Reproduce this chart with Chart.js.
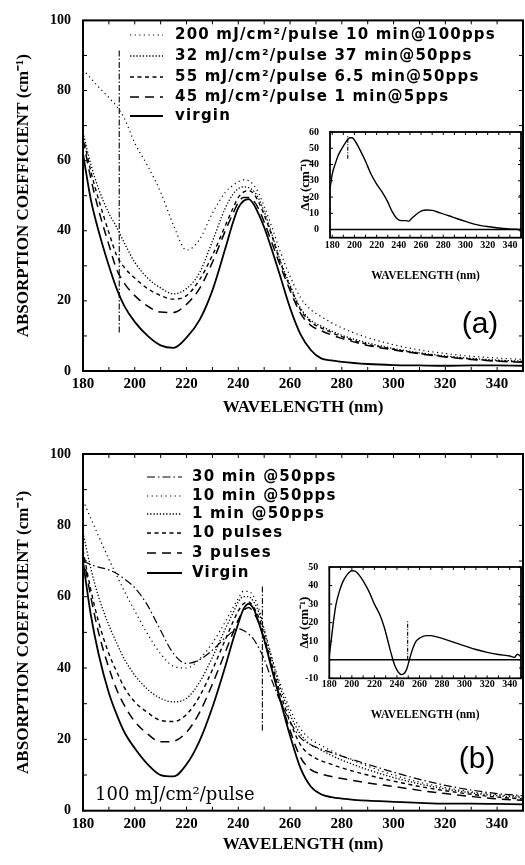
<!DOCTYPE html>
<html>
<head>
<meta charset="utf-8">
<script src="https://cdn.jsdelivr.net/npm/chart.js@4.4.0/dist/chart.umd.min.js"></script>
<style>
  html, body { margin: 0; padding: 0; background: #fff; }
  #page { position: relative; width: 525px; height: 865px; overflow: hidden; background: #fff; }
  .box { position: absolute; }
</style>
</head>
<body>
<div id="page">
  <div class="box" style="left:0;top:0;width:525px;height:430px"><canvas id="mainA"></canvas></div>
  <div class="box" style="left:0;top:430px;width:525px;height:435px"><canvas id="mainB"></canvas></div>
  <div class="box" style="left:280px;top:115px;width:245px;height:175px"><canvas id="insetA"></canvas></div>
  <div class="box" style="left:280px;top:550px;width:245px;height:175px"><canvas id="insetB"></canvas></div>
</div>
<script>
// --- DATA ---
const wavelengths = [180,183,186,190,193,196,200,205,210,215,220,225,230,235,238,240,242,244,246,248,250,253,256,260,264,268,272,276,280,290,300,310,320,330,340,350];

// panel (a)
const labelsA = [
  '200 mJ/cm²/pulse 10 min@100pps',
  '32 mJ/cm²/pulse 37 min@50pps',
  '55 mJ/cm²/pulse 6.5 min@50pps',
  '45 mJ/cm²/pulse 1 min@5pps',
  'virgin'
];
const a200 = [86,83.5,81,78,75.5,72,65,58.5,51,41.5, 34.5,37.5,45,51,53,54,54.5,54.3,53,50.5, 47,41,34.5,27,21,17.5,15.5,13.8,12.3,9.5, 7.5,6,5,4.2,3.7,3.3];
const a32 = [68,59,52,45,41,36.5,31,26.5,23.7,22, 23.5,28,37,46.5,50.5,52,52.5,52.3,51.3,49, 45.5,39,32,24.5,18,14.5,12.8,11.4,10.2,8, 6.4,5.2,4.3,3.6,3.1,2.8];
const a55 = [67,57,49,39.5,33,29.5,26.5,23.5,21.5,20.5, 21.5,26,33,41.5,46.5,49.5,51,51.5,50.5,48, 44.5,38.5,31.5,24,17.5,14,12.3,11,9.8,7.6, 6.2,5,4.1,3.4,2.9,2.6];
const a45 = [66,55,46,36,29,25,21.5,18.5,16.8,16.7, 19,23.5,31,40,45,48,49.5,49.5,48.5,46, 42.5,36.5,30.5,23,16.5,13,11.5,10.3,9.3,7.3, 6,4.9,4,3.3,2.8,2.5];
const aVirgin = [62,49,40,30,23.5,18.5,14,10,7.3,6.6, 9.5,14.5,23,35,42.5,46.5,48.5,49,47.5,44.5, 41,34.5,27.5,18,10.5,6,3.6,3,2.6,2, 1.7,1.6,1.5,1.6,1.6,1.5];
const markerAx = [194, 194];
const markerAy = [11, 92];

// panel (b)
const labelsB = ['30 min @50pps', '10 min @50pps', '1 min @50pps', '10 pulses', '3 pulses', 'Virgin'];
const b30m = [70,69,68.3,67.5,66.5,65,62.5,57.5,50.5,44, 41.3,42.3,45,48.5,50.3,51,50.5,49.5,48,45.5, 42.5,36.5,31,25,20.5,18.5,17.3,16.3,15.3,13, 10.8,8.8,7.1,5.8,4.8,4.2];
const b10m = [87,82,77,70.5,66,61.5,56,49.5,44,40.5, 40,42.5,47,53,57,59.5,61.5,61.5,60,56.5, 51,43,36,28.5,23,20,18.3,16.8,15.4,12.5, 10,8,6.5,5.3,4.5,4];
const b1m = [78,68,60,52,47,42.5,38,34,31.5,30.5, 31.5,36,43,51,55.5,58.5,60,60,58.5,55.5, 50.5,42.5,35,27,21.5,18.5,17,15.5,14.2,11.5, 9.3,7.5,6.1,5,4.2,3.7];
const b10p = [73,62,53,44,39,34.5,30.5,27.5,25.3,25, 27,32,39.5,48,53,56,58,58.5,57,54, 49,41,33.5,25,18.5,15.5,14,13,12,10, 8.3,6.8,5.6,4.6,3.8,3.3];
const b3p = [72,60,50,40,34,29.5,25,21.5,19.3,19.5, 22,27.5,35.5,44.5,50,53.5,56,57,55.5,52.5, 48,40,32,22.5,15,11.5,10.3,9.6,9,7.8, 6.8,5.7,4.8,4,3.3,2.9];
const bVirgin = [70,55,44,33,27,22,17.5,13,10,9.6, 13,19.5,29,40.5,48,52.5,56.5,58,56.5,52.5, 48,39.5,31.5,21,12,6.8,4.6,3.8,3.4,2.8, 2.5,2.2,2,2,1.9,1.8];
const markerBx = [249.3, 249.3];
const markerBy = [22.5, 63];

// insets (difference spectra)
const insetWlA = [178,180,183,185,188,192,196,198,201,205,210,215,220,225,230,234,238,242,246,249,251,255,260,265,270,277,285,292,300,307,315,322,330,337,345,350];
const insetDA = [25,34,41,45,49,53.5,56.5,56.5,54,49,42,34,28,23,17,11,7,5.5,5.5,5.2,6.5,9,11.3,12,11.8,10.3,8.5,6.8,5,3.5,2.3,1.7,1,0.5,0.2,0];
const insetMarkAx = [194, 194];
const insetMarkAy = [43.5, 58];

const insetWlB = [180,182,184,186,189,192,196,200,203,206,210,215,220,225,229,232,235,238,241,244,247,249,251,254,257,261,266,270,275,280,290,300,310,320,330,340,344,347,350];
const insetDB = [2,12,22,30,37,42,46,48,47.8,46,42.5,37,30,24,17,10,3,-3,-6.5,-8,-7,-4.5,0,6,10,12,13,13,12.3,11.5,9.5,7.5,5.5,4,2.8,2,1.3,3,1.5];
const insetMarkBx = [249.5, 249.5];
const insetMarkBy = [0, 21];

// --- STYLES ---
const styles = {
  sparseDot: { borderDash: [1.2, 3.4], borderWidth: 1.2 },
  denseDot:  { borderDash: [1.3, 1.9], borderWidth: 1.3 },
  shortDash: { borderDash: [4, 3.5],   borderWidth: 1.4 },
  longDash:  { borderDash: [9, 6],     borderWidth: 1.5 },
  dashDot:   { borderDash: [8, 3, 1.5, 3], borderWidth: 1.2 },
  solid:     { borderDash: [],         borderWidth: 1.8 }
};

function pts(xs, ys) { return xs.map((x, i) => ({ x: x, y: ys[i] })); }

function series(label, ys, style, xs) {
  return Object.assign({
    label: label,
    data: pts(xs || wavelengths, ys),
    borderColor: '#000',
    pointRadius: 0,
    fill: false,
    cubicInterpolationMode: 'monotone'
  }, style);
}

function marker(xs, ys, dash) {
  return {
    label: '',
    data: pts(xs, ys),
    borderColor: '#000',
    borderWidth: 1.1,
    borderDash: dash,
    pointRadius: 0,
    fill: false
  };
}

// --- PLUGINS ---
// box, inward ticks, zero line
const framePlugin = {
  id: 'frame',
  afterDatasetsDraw(chart, args, o) {
    const { ctx, chartArea: a, scales: { x, y } } = chart;
    ctx.save();
    ctx.strokeStyle = '#000';
    ctx.setLineDash([]);
    ctx.lineWidth = 1;
    ctx.beginPath();
    for (let v = Math.ceil(x.min / 10) * 10; v <= x.max; v += 10) {
      const px = x.getPixelForValue(v);
      ctx.moveTo(px, a.bottom); ctx.lineTo(px, a.bottom - o.tick);
      ctx.moveTo(px, a.top); ctx.lineTo(px, a.top + o.tick);
    }
    for (let v = Math.ceil(y.min / 10) * 10; v <= y.max; v += 10) {
      const py = y.getPixelForValue(v);
      ctx.moveTo(a.left, py); ctx.lineTo(a.left + o.tick, py);
      ctx.moveTo(a.right, py); ctx.lineTo(a.right - o.tick, py);
    }
    ctx.stroke();
    if (o.zero) {
      const py = y.getPixelForValue(0);
      ctx.lineWidth = 1.5;
      ctx.beginPath();
      ctx.moveTo(a.left, py); ctx.lineTo(a.right, py);
      ctx.stroke();
    }
    ctx.lineWidth = o.width;
    ctx.strokeRect(a.left, a.top, a.right - a.left, a.bottom - a.top);
    ctx.restore();
  }
};

// legend drawn inside the plot, one row per labelled dataset
const sideLegend = {
  id: 'sideLegend',
  afterDraw(chart, args, o) {
    if (!o.rows) return;
    const ctx = chart.ctx;
    ctx.save();
    ctx.font = o.textFont;
    if ('letterSpacing' in ctx) ctx.letterSpacing = o.spacing;
    ctx.textBaseline = 'middle';
    ctx.fillStyle = '#000';
    ctx.strokeStyle = '#000';
    let i = 0;
    chart.data.datasets.forEach(ds => {
      if (!ds.label) return;
      const y = o.rows[i++];
      ctx.beginPath();
      ctx.setLineDash(ds.borderDash || []);
      ctx.lineWidth = ds.borderWidth;
      ctx.moveTo(o.lineX0, y);
      ctx.lineTo(o.lineX1, y);
      ctx.stroke();
      ctx.setLineDash([]);
      ctx.fillText(ds.label, o.textX, y);
    });
    ctx.restore();
  }
};

// free text notes, e.g. panel letters
const notes = {
  id: 'notes',
  afterDraw(chart, args, o) {
    if (!o.items) return;
    const ctx = chart.ctx;
    ctx.save();
    ctx.fillStyle = '#000';
    o.items.forEach(it => {
      ctx.font = it.font;
      ctx.textAlign = it.align;
      ctx.textBaseline = it.baseline;
      ctx.fillText(it.text, it.x, it.y);
    });
    ctx.restore();
  }
};

// --- CHART BUILDERS ---
const serifBold = (size) => ({ family: "'Liberation Serif', 'Times New Roman', serif", size: size, weight: 'bold' });

function mainChart(id, datasets, pad, xHeight, xTitlePad, legendOpts, noteItems) {
  return new Chart(document.getElementById(id), {
    type: 'line',
    data: { datasets: datasets },
    plugins: [framePlugin, sideLegend, notes],
    options: {
      responsive: true,
      maintainAspectRatio: false,
      animation: false,
      layout: { padding: { top: pad.top, right: pad.right, left: 0, bottom: 0 } },
      scales: {
        x: {
          type: 'linear', min: 180, max: 350,
          grid: { display: false, drawTicks: false },
          border: { display: false },
          ticks: { stepSize: 20, includeBounds: false, autoSkip: false, maxRotation: 0, padding: 4, color: '#000', font: serifBold(15) },
          title: { display: true, text: 'WAVELENGTH (nm)', color: '#000', font: serifBold(17), padding: { top: 0, bottom: xTitlePad } },
          afterFit: s => { s.height = xHeight; }
        },
        y: {
          type: 'linear', min: 0, max: 100,
          grid: { display: false, drawTicks: false },
          border: { display: false },
          ticks: { stepSize: 20, includeBounds: false, padding: 12, color: '#000', font: serifBold(14) },
          title: { display: true, text: 'ABSORPTION COEFFICIENT (cm⁻¹)', color: '#000', font: serifBold(17), padding: { top: 13.8, bottom: 0 } },
          afterFit: s => { s.width = 83; }
        }
      },
      plugins: {
        legend: { display: false },
        tooltip: { enabled: false },
        frame: { tick: 4, width: 2, zero: false },
        sideLegend: legendOpts,
        notes: { items: noteItems }
      }
    }
  });
}

function insetChart(id, xs, ys, mx, my, yMin, yMax, pad, yWidth, xHeight, yTitlePad, xTitlePad, xTickPad) {
  return new Chart(document.getElementById(id), {
    type: 'line',
    data: {
      datasets: [
        series('', ys, { borderDash: [], borderWidth: 1.4 }, xs),
        marker(mx, my, [4, 1.5, 1, 1.5])
      ]
    },
    plugins: [framePlugin],
    options: {
      responsive: true,
      maintainAspectRatio: false,
      animation: false,
      layout: { padding: { top: pad.top, right: pad.right, left: 0, bottom: 0 } },
      scales: {
        x: {
          type: 'linear', min: xs[0] < 180 ? xs[0] : 180, max: 350,
          grid: { display: false, drawTicks: false },
          border: { display: false },
          ticks: { stepSize: 20, includeBounds: false, autoSkip: false, maxRotation: 0, padding: xTickPad, color: '#000', font: serifBold(10) },
          title: { display: true, text: 'WAVELENGTH (nm)', color: '#000', font: serifBold(11.5), padding: { top: 0, bottom: xTitlePad } },
          afterFit: s => { s.height = xHeight; }
        },
        y: {
          type: 'linear', min: yMin, max: yMax,
          grid: { display: false, drawTicks: false },
          border: { display: false },
          ticks: { stepSize: 10, includeBounds: false, padding: 11, color: '#000', font: serifBold(10) },
          title: { display: true, text: 'Δα (cm⁻¹)', color: '#000', font: serifBold(13), padding: { top: yTitlePad, bottom: 0 } },
          afterFit: s => { s.width = yWidth; }
        }
      },
      plugins: {
        legend: { display: false },
        tooltip: { enabled: false },
        frame: { tick: 3, width: 1.8, zero: true }
      }
    }
  });
}

// --- PANEL (a) ---
mainChart('mainA', [
  series(labelsA[0], a200, styles.sparseDot),
  series(labelsA[1], a32, styles.denseDot),
  series(labelsA[2], a55, styles.shortDash),
  series(labelsA[3], a45, styles.longDash),
  series(labelsA[4], aVirgin, styles.solid),
  marker(markerAx, markerAy, [6, 2, 1.5, 2])
], { top: 16, right: 2 }, 59, 11.8,
{ rows: [35, 56, 77, 97, 116], lineX0: 130, lineX1: 163, textX: 175, textFont: "bold 15px 'DejaVu Sans', sans-serif", spacing: '1.2px' },
[{ text: '(a)', x: 480, y: 325, font: "30px 'Liberation Sans', Arial, sans-serif", align: 'center', baseline: 'middle' }]);

// --- PANEL (b) ---
mainChart('mainB', [
  series(labelsB[0], b30m, styles.dashDot),
  series(labelsB[1], b10m, styles.sparseDot),
  series(labelsB[2], b1m, styles.denseDot),
  series(labelsB[3], b10p, styles.shortDash),
  series(labelsB[4], b3p, styles.longDash),
  series(labelsB[5], bVirgin, styles.solid),
  marker(markerBx, markerBy, [6, 2, 1.5, 2])
], { top: 24, right: 2 }, 54.3, 9.8,
{ rows: [47, 66, 84, 103, 123, 143], lineX0: 147, lineX1: 182, textX: 192, textFont: "bold 15px 'DejaVu Sans', sans-serif", spacing: '1.2px' },
[
  { text: '(b)', x: 477, y: 330, font: "30px 'Liberation Sans', Arial, sans-serif", align: 'center', baseline: 'middle' },
  { text: '100 mJ/cm²/pulse', x: 95, y: 370, font: "18px 'DejaVu Serif', serif", align: 'left', baseline: 'alphabetic' }
]);

// --- INSETS ---
insetChart('insetA', insetWlA, insetDA, insetMarkAx, insetMarkAy, -5, 60,
  { top: 15.7, right: 4 }, 50, 52.3, 18.2, 7.1, 1.5);
insetChart('insetB', insetWlB, insetDB, insetMarkBx, insetMarkBy, -10, 50,
  { top: 15, right: 4 }, 49.3, 46.7, 17.2, 3.1, 0);
</script>
</body>
</html>
